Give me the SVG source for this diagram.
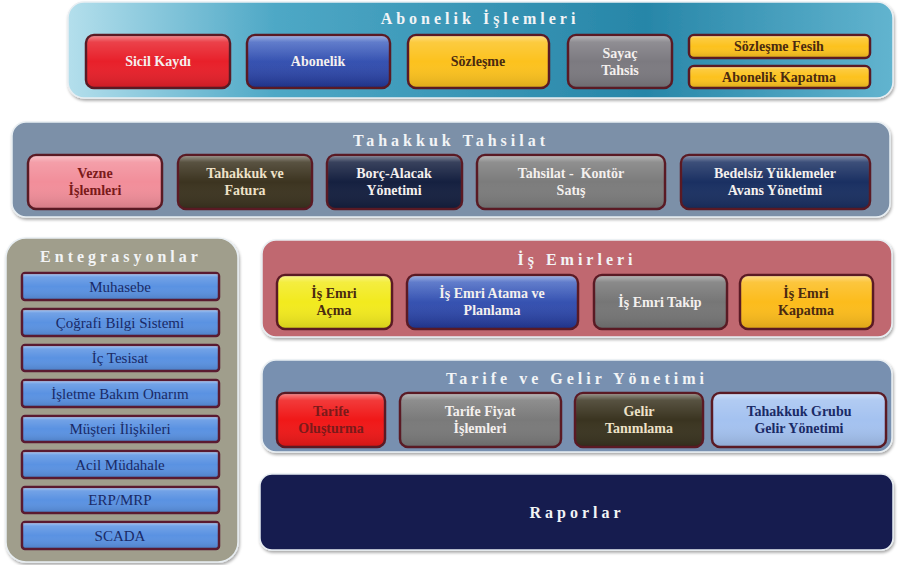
<svg xmlns="http://www.w3.org/2000/svg" width="904" height="565" viewBox="0 0 904 565">
<defs>
<linearGradient id="gTop" x1="0" y1="0" x2="1" y2="0">
<stop offset="0" stop-color="#b4dfec"/><stop offset="0.25" stop-color="#4ea8c6"/><stop offset="0.7" stop-color="#2786a8"/><stop offset="1" stop-color="#62b4cf"/>
</linearGradient>
<linearGradient id="gloss" x1="0" y1="0" x2="0" y2="1">
<stop offset="0" stop-color="#fff" stop-opacity="0.45"/><stop offset="0.12" stop-color="#fff" stop-opacity="0.15"/><stop offset="0.5" stop-color="#fff" stop-opacity="0"/><stop offset="1" stop-color="#000" stop-opacity="0.12"/>
</linearGradient>
<linearGradient id="gBlue" x1="0" y1="0" x2="0" y2="1">
<stop offset="0" stop-color="#4a6cc8"/><stop offset="1" stop-color="#23399a"/>
</linearGradient>
<filter id="sh" x="-5%" y="-10%" width="110%" height="125%">
<feDropShadow dx="1" dy="2" stdDeviation="1.5" flood-color="#000" flood-opacity="0.35"/>
</filter>
</defs>
<style>
.panel{stroke:#e8eef2;stroke-width:1.5;filter:url(#sh)}
.box{stroke:#5a1a24;stroke-width:2.5}
.gl{fill:url(#gloss);stroke:none}
.title{font-family:"Liberation Serif",serif;font-weight:bold;font-size:16px;letter-spacing:4px;fill:#f2f4f6;text-anchor:middle}
.t{font-family:"Liberation Serif",serif;font-weight:bold;font-size:14px;text-anchor:middle}
.e{font-size:15px;font-weight:normal}
.w{fill:#f4f0ee}
.d{fill:#4a2a10}
.n{fill:#1a2a66}
.r{fill:#7a1a1a}
.b{fill:#eee2c8}
.ent{fill:#5a92e2;stroke:#5a1a30;stroke-width:2.5}
</style>
<rect width="904" height="565" fill="#ffffff"/>

<g id="abonelik">
<rect class="panel" x="68" y="2" width="825" height="96" rx="16" fill="url(#gTop)"/>
<text class="title" x="480" y="24">Abonelik İşlemleri</text>
</g>
<g id="sicil"><rect class="box" x="86" y="35" width="144" height="53" rx="8" fill="#e8202a"/><rect class="gl" x="87" y="36" width="142" height="51" rx="7"/><text class="t w" x="158" y="66">Sicil Kaydı</text></g>
<g id="abonelik-box"><rect class="box" x="247" y="35" width="143" height="53" rx="8" fill="url(#gBlue)"/><rect class="gl" x="248" y="36" width="141" height="51" rx="7"/><text class="t w" x="318" y="66">Abonelik</text></g>
<g id="sozlesme"><rect class="box" x="408" y="35" width="141" height="53" rx="8" fill="#fcc21e"/><rect class="gl" x="409" y="36" width="139" height="51" rx="7"/><text class="t d" x="478" y="66">Sözleşme</text></g>
<g id="sayac"><rect class="box" x="568" y="35" width="104" height="53" rx="8" fill="#7c7a80"/><rect class="gl" x="569" y="36" width="102" height="51" rx="7"/><text class="t w" x="620" y="58">Sayaç</text><text class="t w" x="620" y="75">Tahsis</text></g>
<g id="fesih"><rect class="box" x="689" y="35" width="181" height="23" rx="5" fill="#fcc21e"/><rect class="gl" x="690" y="36" width="179" height="21" rx="4"/><text class="t d" x="779" y="51">Sözleşme Fesih</text></g>
<g id="kapatma"><rect class="box" x="689" y="66" width="181" height="22" rx="5" fill="#fcc21e"/><rect class="gl" x="690" y="67" width="179" height="20" rx="4"/><text class="t d" x="779" y="82">Abonelik Kapatma</text></g>

<g id="tahakkuk">
<rect class="panel" x="12" y="122" width="878" height="95" rx="14" fill="#7b90a8"/>
<text class="title" x="451" y="146">Tahakkuk Tahsilat</text>
</g>
<g id="vezne"><rect class="box" x="28" y="155" width="134" height="54" rx="8" fill="#f28e9a"/><rect class="gl" x="29" y="156" width="132" height="52" rx="7"/><text class="t r" x="95" y="178">Vezne</text><text class="t r" x="95" y="195">İşlemleri</text></g>
<g id="fatura"><rect class="box" x="178" y="155" width="134" height="54" rx="8" fill="#3c3420"/><rect class="gl" x="179" y="156" width="132" height="52" rx="7"/><text class="t b" x="245" y="178">Tahakkuk ve</text><text class="t b" x="245" y="195">Fatura</text></g>
<g id="borc"><rect class="box" x="327" y="155" width="135" height="54" rx="8" fill="#152040"/><rect class="gl" x="328" y="156" width="133" height="52" rx="7"/><text class="t w" x="394" y="178">Borç-Alacak</text><text class="t w" x="394" y="195">Yönetimi</text></g>
<g id="tahsilat"><rect class="box" x="477" y="155" width="188" height="54" rx="8" fill="#7c7c7c"/><rect class="gl" x="478" y="156" width="186" height="52" rx="7"/><text class="t w" x="571" y="178" xml:space="preserve">Tahsilat -  Kontör</text><text class="t w" x="571" y="195">Satış</text></g>
<g id="bedelsiz"><rect class="box" x="681" y="155" width="189" height="54" rx="8" fill="#1a3062"/><rect class="gl" x="682" y="156" width="187" height="52" rx="7"/><text class="t w" x="775" y="178">Bedelsiz Yüklemeler</text><text class="t w" x="775" y="195">Avans Yönetimi</text></g>

<g id="entegrasyonlar">
<rect class="panel" x="6" y="238" width="232" height="324" rx="20" fill="#a09e8c" stroke="#d4d0c4"/>
<text class="title" x="121" y="262">Entegrasyonlar</text>
</g>
<g id="muhasebe"><rect class="ent" x="22" y="273" width="197" height="27" rx="3"/><rect class="gl" x="23" y="274" width="195" height="25"/><text class="t e n" x="120" y="292">Muhasebe</text></g>
<g id="cbs"><rect class="ent" x="22" y="309" width="197" height="27" rx="3"/><rect class="gl" x="23" y="310" width="195" height="25"/><text class="t e n" x="120" y="328">Çoğrafi Bilgi Sistemi</text></g>
<g id="ictesisat"><rect class="ent" x="22" y="345" width="197" height="26" rx="3"/><rect class="gl" x="23" y="346" width="195" height="24"/><text class="t e n" x="120" y="363">İç Tesisat</text></g>
<g id="bakim"><rect class="ent" x="22" y="380" width="197" height="27" rx="3"/><rect class="gl" x="23" y="381" width="195" height="25"/><text class="t e n" x="120" y="399">İşletme Bakım Onarım</text></g>
<g id="musteri"><rect class="ent" x="22" y="416" width="197" height="26" rx="3"/><rect class="gl" x="23" y="417" width="195" height="24"/><text class="t e n" x="120" y="434">Müşteri İlişkileri</text></g>
<g id="acil"><rect class="ent" x="22" y="451" width="197" height="27" rx="3"/><rect class="gl" x="23" y="452" width="195" height="25"/><text class="t e n" x="120" y="470">Acil Müdahale</text></g>
<g id="erp"><rect class="ent" x="22" y="487" width="197" height="26" rx="3"/><rect class="gl" x="23" y="488" width="195" height="24"/><text class="t e n" x="120" y="505">ERP/MRP</text></g>
<g id="scada"><rect class="ent" x="22" y="522" width="197" height="27" rx="3"/><rect class="gl" x="23" y="523" width="195" height="25"/><text class="t e n" x="120" y="541">SCADA</text></g>

<g id="isemirleri">
<rect class="panel" x="262" y="240" width="630" height="97" rx="14" fill="#c0676f"/>
<text class="title" x="577" y="265">İş Emirleri</text>
</g>
<g id="acma"><rect class="box" x="277" y="275" width="115" height="54" rx="8" fill="#f2ea1e"/><rect class="gl" x="278" y="276" width="113" height="52" rx="7"/><text class="t d" x="334" y="298">İş Emri</text><text class="t d" x="334" y="315">Açma</text></g>
<g id="atama"><rect class="box" x="407" y="275" width="171" height="54" rx="8" fill="url(#gBlue)"/><rect class="gl" x="408" y="276" width="169" height="52" rx="7"/><text class="t w" x="492" y="298">İş Emri Atama ve</text><text class="t w" x="492" y="315">Planlama</text></g>
<g id="takip"><rect class="box" x="594" y="275" width="133" height="54" rx="8" fill="#767676"/><rect class="gl" x="595" y="276" width="131" height="52" rx="7"/><text class="t w" x="660" y="307">İş Emri Takip</text></g>
<g id="iskapatma"><rect class="box" x="740" y="275" width="133" height="54" rx="8" fill="#fcbc1c"/><rect class="gl" x="741" y="276" width="131" height="52" rx="7"/><text class="t d" x="806" y="298">İş Emri</text><text class="t d" x="806" y="315">Kapatma</text></g>

<g id="tarife">
<rect class="panel" x="262" y="360" width="630" height="92" rx="14" fill="#7890b0"/>
<text class="title" x="577" y="384">Tarife ve Gelir Yönetimi</text>
</g>
<g id="olusturma"><rect class="box" x="277" y="393" width="108" height="54" rx="8" fill="#f01818"/><rect class="gl" x="278" y="394" width="106" height="52" rx="7"/><text class="t r" x="331" y="416">Tarife</text><text class="t r" x="331" y="433">Oluşturma</text></g>
<g id="fiyat"><rect class="box" x="400" y="393" width="161" height="54" rx="8" fill="#7a7a7a"/><rect class="gl" x="401" y="394" width="159" height="52" rx="7"/><text class="t w" x="480" y="416">Tarife Fiyat</text><text class="t w" x="480" y="433">İşlemleri</text></g>
<g id="gelir"><rect class="box" x="575" y="393" width="128" height="54" rx="8" fill="#3a3420"/><rect class="gl" x="576" y="394" width="126" height="52" rx="7"/><text class="t b" x="639" y="416">Gelir</text><text class="t b" x="639" y="433">Tanımlama</text></g>
<g id="grubu"><rect class="box" x="712" y="393" width="174" height="54" rx="8" fill="#a4c2f0"/><rect class="gl" x="713" y="394" width="172" height="52" rx="7"/><text class="t n" x="799" y="416">Tahakkuk Grubu</text><text class="t n" x="799" y="433">Gelir Yönetimi</text></g>

<g id="raporlar">
<rect class="panel" x="260" y="474" width="633" height="76" rx="12" fill="#151a50" stroke="#c8ccd8"/>
<text class="title" x="577" y="518">Raporlar</text>
</g>
<g id="connectors"></g>
</svg>
